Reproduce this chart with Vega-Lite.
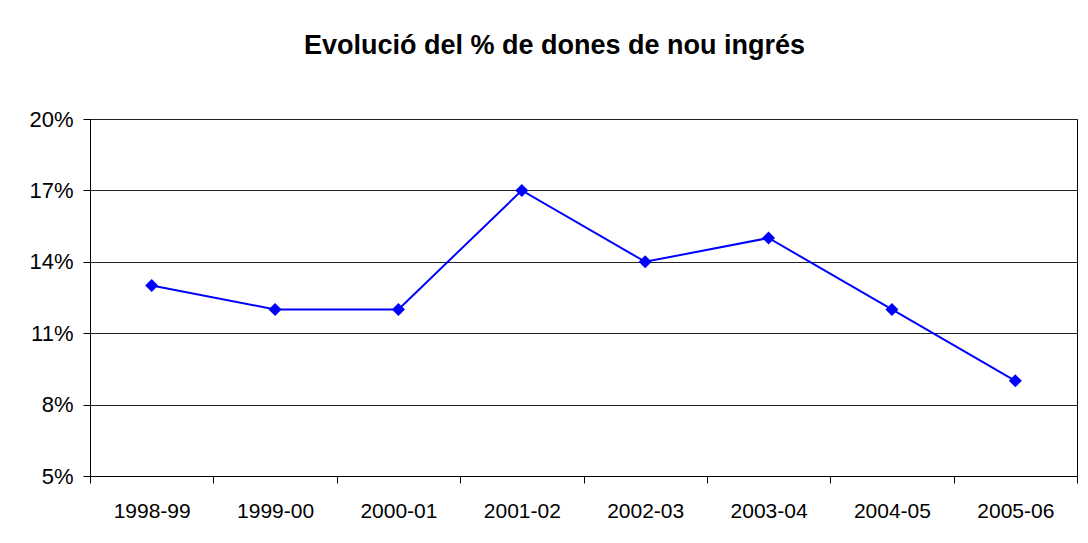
{
  "$schema": "https://vega.github.io/schema/vega-lite/v6.json",
  "width": 987,
  "height": 357,
  "autosize": "none",
  "padding": {"left": 90, "top": 119, "right": 11, "bottom": 67},
  "background": "white",
  "title": {
    "text": "Evolució del % de dones de nou ingrés",
    "font": "Liberation Sans",
    "fontSize": 27,
    "fontWeight": "bold",
    "color": "black",
    "anchor": "middle",
    "dx": -29,
    "baseline": "alphabetic",
    "offset": 27,
    "frame": "group"
  },
  "data": {
    "values": [
      {"curs": "1998-99", "pct": 0.13},
      {"curs": "1999-00", "pct": 0.12},
      {"curs": "2000-01", "pct": 0.12},
      {"curs": "2001-02", "pct": 0.17},
      {"curs": "2002-03", "pct": 0.14},
      {"curs": "2003-04", "pct": 0.15},
      {"curs": "2004-05", "pct": 0.12},
      {"curs": "2005-06", "pct": 0.09}
    ]
  },
  "config": {"view": {"stroke": "black", "strokeWidth": 1}},
  "encoding": {
    "x": {
      "field": "curs",
      "type": "ordinal",
      "sort": null,
      "scale": {"type": "band", "paddingInner": 0, "paddingOuter": 0},
      "axis": {
        "title": null,
        "labelAngle": 0,
        "tickBand": "extent",
        "tickSize": 7,
        "labelPadding": 17,
        "labelFont": "Liberation Sans",
        "labelFontSize": 21,
        "labelColor": "black",
        "domainColor": "black",
        "tickColor": "black",
        "grid": false
      }
    },
    "y": {
      "field": "pct",
      "type": "quantitative",
      "scale": {"domain": [0.05, 0.2], "nice": false, "zero": false},
      "axis": {
        "title": null,
        "values": [0.05, 0.08, 0.11, 0.14, 0.17, 0.2],
        "format": ".0%",
        "grid": true,
        "gridColor": "#222222",
        "gridOpacity": 1,
        "tickSize": 7,
        "labelPadding": 10,
        "labelFont": "Liberation Sans",
        "labelFontSize": 22,
        "labelColor": "black",
        "domainColor": "black",
        "tickColor": "black"
      }
    }
  },
  "layer": [
    {"mark": {"type": "line", "color": "#0000FF", "strokeWidth": 2}},
    {"mark": {"type": "point", "shape": "diamond", "filled": true, "size": 170, "color": "#0000FF", "opacity": 1}}
  ]
}
